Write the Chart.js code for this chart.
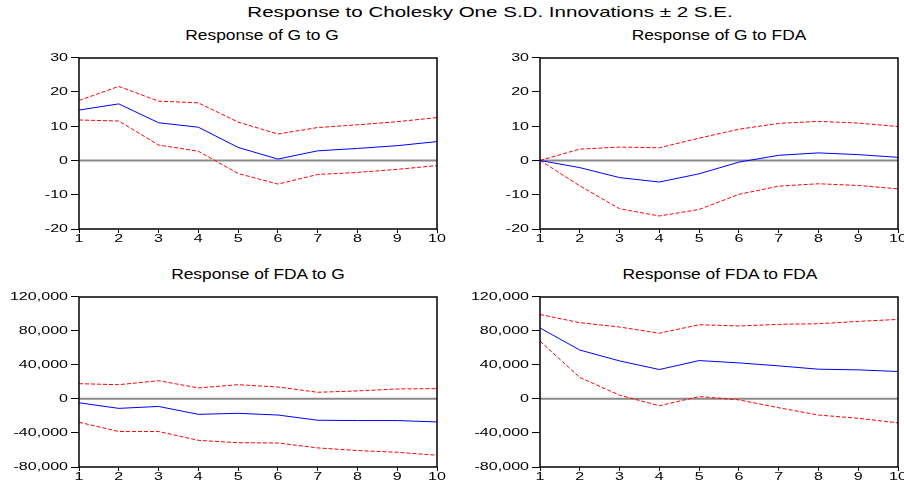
<!DOCTYPE html>
<html>
<head>
<meta charset="utf-8">
<script src="https://cdn.jsdelivr.net/npm/chart.js@4.4.1/dist/chart.umd.min.js"></script>
<style>
  body { margin: 0; width: 904px; height: 490px; overflow: hidden; background: #fff; position: relative;
         font-family: "Liberation Sans", Arial, sans-serif; }
  .ttl { position: absolute; text-align: center; color: #000; white-space: nowrap; transform-origin: center; }
  canvas { position: absolute; }
</style>
</head>
<body>
<div class="ttl" style="left:190px; width:600px; top:3px; font-size:15px; transform:scaleX(1.37);">Response to Cholesky One S.D. Innovations &plusmn; 2 S.E.</div>
<div class="ttl" style="left:62px; width:400px; top:27px; font-size:14px; transform:scaleX(1.24);">Response of G to G</div>
<div class="ttl" style="left:519px; width:400px; top:27px; font-size:14px; transform:scaleX(1.24);">Response of G to FDA</div>
<div class="ttl" style="left:58px; width:400px; top:266px; font-size:14px; transform:scaleX(1.24);">Response of FDA to G</div>
<div class="ttl" style="left:520px; width:400px; top:266px; font-size:14px; transform:scaleX(1.24);">Response of FDA to FDA</div>

<canvas id="c1" style="left:0px; top:48px;" width="450" height="199"></canvas>
<canvas id="c2" style="left:450px; top:48px;" width="460" height="199"></canvas>
<canvas id="c3" style="left:0px; top:287px;" width="450" height="198"></canvas>
<canvas id="c4" style="left:450px; top:287px;" width="460" height="198"></canvas>

<script>
// periods after the shock
const periods = ['1', '2', '3', '4', '5', '6', '7', '8', '9', '10'];

// Response of G to G
const gToG = [14.7, 16.5, 11.0, 9.7, 3.8, 0.4, 2.8, 3.5, 4.3, 5.5];
const gToGUpper = [17.5, 21.6, 17.3, 16.8, 11.2, 7.7, 9.6, 10.4, 11.3, 12.5];
const gToGLower = [11.8, 11.5, 4.5, 2.7, -3.8, -6.9, -4.1, -3.5, -2.6, -1.5];

// Response of G to FDA
const gToFda = [0, -2.1, -5.0, -6.3, -3.9, -0.5, 1.5, 2.2, 1.7, 0.9];
const gToFdaUpper = [0, 3.3, 3.9, 3.7, 6.5, 9.1, 10.8, 11.4, 10.9, 9.9];
const gToFdaLower = [0, -7.4, -14.1, -16.2, -14.3, -9.9, -7.5, -6.8, -7.3, -8.3];

// Response of FDA to G
const fdaToG = [-4600, -11200, -8900, -18200, -17000, -19000, -25100, -25500, -25500, -27100];
const fdaToGUpper = [17800, 16600, 21300, 12800, 16600, 13900, 7700, 9300, 11600, 12000];
const fdaToGLower = [-27500, -38300, -38300, -48700, -51500, -51800, -57600, -60700, -62700, -66200];

// Response of FDA to FDA
const fdaToFda = [83200, 57300, 44500, 34400, 44900, 42200, 38700, 34800, 34000, 32100];
const fdaToFdaUpper = [99000, 89400, 84300, 77000, 87000, 85500, 87400, 88200, 90900, 93200];
const fdaToFdaLower = [67700, 25100, 4300, -8100, 2700, -1200, -10400, -19000, -22800, -28200];

// y axis ranges
const gTicks = { min: -20, max: 30, step: 10 };
const fdaTicks = { min: -80000, max: 120000, step: 40000 };

// the original uses a wide, flat font: draw tick labels stretched sideways
const STRETCH = 1.53;
function stretchedText(ctx, text, x, y, align) {
    ctx.save();
    ctx.translate(x, y);
    ctx.scale(STRETCH, 1);
    ctx.textAlign = align;
    ctx.textBaseline = 'middle';
    ctx.fillText(text, 0, 0);
    ctx.restore();
}

// frame, grey zero line and the tick labels
const framePlugin = {
    id: 'frame',
    beforeDatasetsDraw(chart) {
        const ctx = chart.ctx;
        const a = chart.chartArea;
        const y0 = chart.scales.y.getPixelForValue(0);
        ctx.save();
        ctx.strokeStyle = '#8a8a8a';
        ctx.lineWidth = 2;
        ctx.beginPath();
        ctx.moveTo(a.left, y0);
        ctx.lineTo(a.right, y0);
        ctx.stroke();
        ctx.restore();
    },
    afterDraw(chart) {
        const ctx = chart.ctx;
        const a = chart.chartArea;
        ctx.save();
        ctx.strokeStyle = '#000';
        ctx.lineWidth = 1.5;
        ctx.strokeRect(Math.round(a.left), Math.round(a.top), Math.round(a.right - a.left), Math.round(a.bottom - a.top));

        ctx.fillStyle = '#000';
        ctx.font = '10.5px "Liberation Sans", Arial, sans-serif';
        const xs = chart.scales.x;
        xs.ticks.forEach((t, i) => {
            stretchedText(ctx, String(t.label), xs.getPixelForTick(i), a.bottom + 10, 'center');
        });
        const ys = chart.scales.y;
        ys.ticks.forEach((t, i) => {
            stretchedText(ctx, String(t.label), a.left - 11, ys.getPixelForTick(i) + 0.5, 'right');
        });
        ctx.restore();
    }
};

function makePanel(id, resp, upper, lower, range, yWidth, padRight) {
    const band = (data) => ({
        data: data,
        borderColor: '#ff0000',
        borderWidth: 1,
        borderDash: [4, 2],
        pointRadius: 0,
        tension: 0,
        fill: false
    });
    return new Chart(document.getElementById(id), {
        type: 'line',
        data: {
            labels: periods,
            datasets: [
                { data: resp, borderColor: '#0000ff', borderWidth: 1, pointRadius: 0, tension: 0, fill: false },
                band(upper),
                band(lower)
            ]
        },
        options: {
            responsive: false,
            animation: false,
            layout: { padding: { top: 8, right: padRight, bottom: 0, left: 0 } },
            plugins: { legend: { display: false }, tooltip: { enabled: false }, title: { display: false } },
            scales: {
                x: {
                    offset: false,
                    border: { display: false },
                    grid: { display: true, drawOnChartArea: false, drawTicks: true, tickLength: 4, tickColor: '#000' },
                    ticks: { color: 'rgba(0,0,0,0)', padding: 1, autoSkip: false, maxRotation: 0,
                             font: { family: 'Liberation Sans', size: 11 } },
                    afterFit: (scale) => { scale.height = 18; }
                },
                y: {
                    min: range.min,
                    max: range.max,
                    border: { display: false },
                    grid: { display: true, drawOnChartArea: false, drawTicks: true, tickLength: 8, tickColor: '#000' },
                    ticks: { stepSize: range.step, color: 'rgba(0,0,0,0)', padding: 3,
                             font: { family: 'Liberation Sans', size: 11 },
                             callback: (v) => v.toLocaleString('en-US') },
                    afterFit: (scale) => { scale.width = yWidth; }
                }
            }
        },
        plugins: [framePlugin]
    });
}

makePanel('c1', gToG, gToGUpper, gToGLower, gTicks, 79, 13);
makePanel('c2', gToFda, gToFdaUpper, gToFdaLower, gTicks, 90, 12);
makePanel('c3', fdaToG, fdaToGUpper, fdaToGLower, fdaTicks, 79, 13);
makePanel('c4', fdaToFda, fdaToFdaUpper, fdaToFdaLower, fdaTicks, 90, 12);
</script>
</body>
</html>
